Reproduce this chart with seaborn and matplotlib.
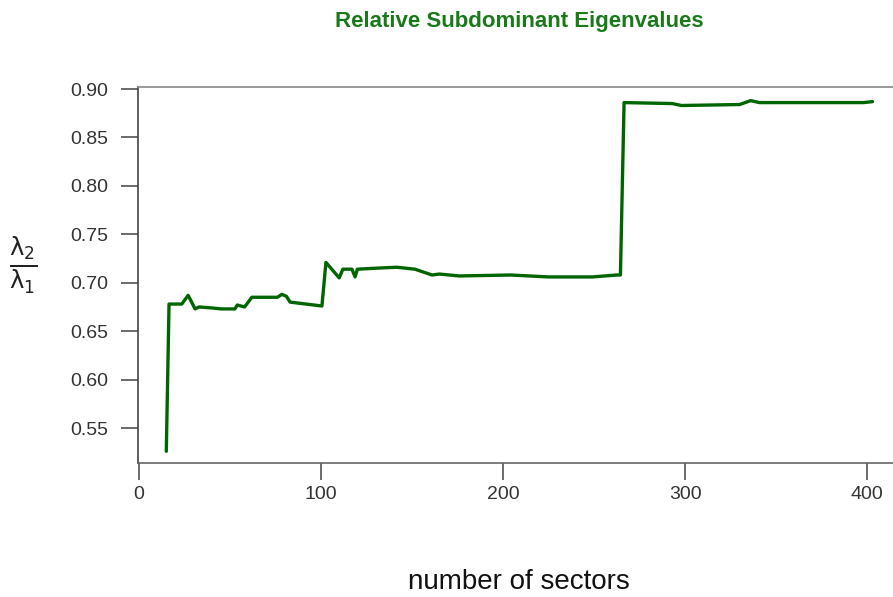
import matplotlib
matplotlib.use("Agg")
import matplotlib.pyplot as plt
import seaborn as sns
import pandas as pd

# Subdominant eigenvalue ratio lambda2/lambda1 against the number of sectors
sectors = [15, 16.5, 23.5, 27, 30.8, 33, 40, 45, 52.7, 54, 58, 62, 70, 76,
           78.5, 81, 83, 100.5, 102.7, 110, 112, 117, 118.7, 120, 130, 141.6,
           151.6, 161, 165, 176, 204, 225, 249, 262.6, 264.5, 266.5, 293, 298,
           330, 336, 341, 398, 403]
ratio = [0.526, 0.678, 0.678, 0.687, 0.673, 0.675, 0.674, 0.673, 0.673, 0.677,
         0.675, 0.685, 0.685, 0.685, 0.688, 0.686, 0.680, 0.676, 0.721, 0.705,
         0.714, 0.714, 0.706, 0.714, 0.715, 0.716, 0.714, 0.708, 0.709, 0.707,
         0.708, 0.706, 0.706, 0.708, 0.708, 0.886, 0.885, 0.883, 0.884, 0.888,
         0.886, 0.886, 0.887]
x_ticks = [0, 100, 200, 300, 400]
y_ticks = [0.55, 0.60, 0.65, 0.70, 0.75, 0.80, 0.85, 0.90]

df = pd.DataFrame({"sectors": sectors, "ratio": ratio})

sns.set_theme(style="white")
plt.rcParams["font.family"] = ["Liberation Sans", "DejaVu Sans"]
plt.rcParams["mathtext.fontset"] = "dejavusans"

fig = plt.figure(figsize=(8.93, 5.97), dpi=100)
ax = fig.add_axes([138 / 893, 1 - 463 / 597, (900 - 138) / 893, (463 - 87) / 597])

sns.lineplot(data=df, x="sectors", y="ratio", sort=False, estimator=None,
             color="#006400", linewidth=2.4, ax=ax)

ax.set_xlim(-0.55, 418.1)
ax.set_ylim(0.5139, 0.9021)
ax.set_xticks(x_ticks)
ax.set_xticklabels([str(t) for t in x_ticks])
ax.set_yticks(y_ticks)
ax.set_yticklabels([f"{t:.2f}" for t in y_ticks])

ax.tick_params(axis="both", which="major", direction="out", length=12.5,
               width=1.1, color="#444444", labelcolor="#333333",
               labelsize=14, bottom=True, left=True, top=False, right=False)
ax.tick_params(axis="y", pad=9)
ax.tick_params(axis="x", pad=4)

ax.spines["right"].set_visible(False)
ax.spines["top"].set_color("#888888")
ax.spines["left"].set_color("#444444")
ax.spines["bottom"].set_color("#666666")
for s in ("top", "left", "bottom"):
    ax.spines[s].set_linewidth(1.2)

ax.set_xlabel("")
ax.set_ylabel("")

fig.text(519 / 893, 1 - 22 / 597, "Relative Subdominant Eigenvalues",
         ha="center", va="center", color="#1a7a1a", fontsize=16,
         fontweight="bold")
fig.text(519 / 893, 1 - 582 / 597, "number of sectors", ha="center",
         va="center", color="#111111", fontsize=20)
fig.text(23 / 893, 1 - 265 / 597,
         r"$\frac{\mathrm{\lambda}_2}{\mathrm{\lambda}_1}$",
         ha="center", va="center", color="#222222", fontsize=25)

fig.savefig("out.png", dpi=100)
